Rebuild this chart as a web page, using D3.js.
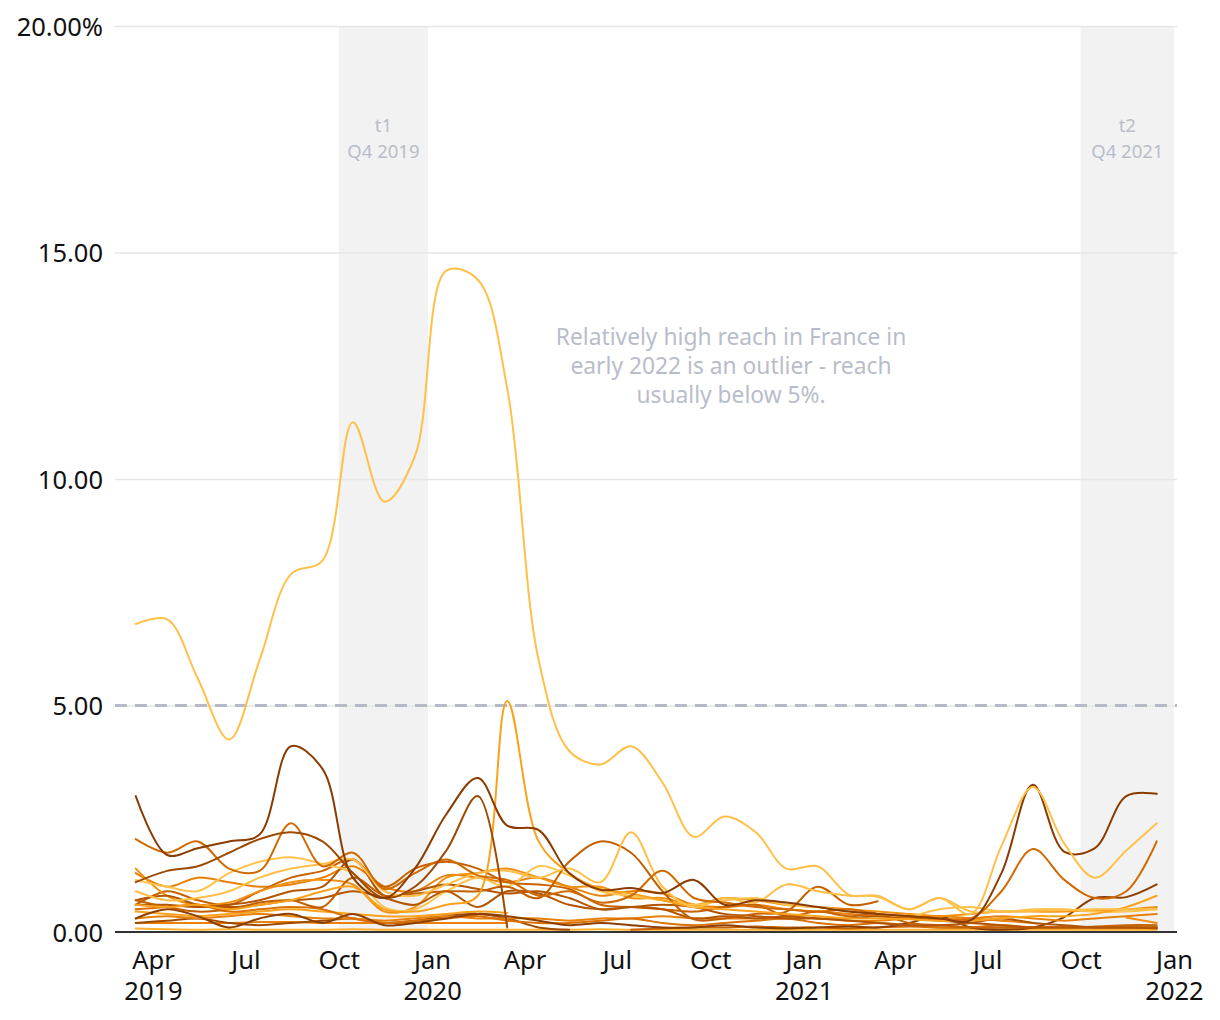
<!DOCTYPE html>
<html><head><meta charset="utf-8">
<script src="https://cdn.jsdelivr.net/npm/d3@7"></script>
<style>
html,body{margin:0;padding:0;background:#fff;}
svg{display:block;font-family:"Noto Sans","Open Sans",sans-serif;}
</style></head>
<body>
<svg id="chart" width="1220" height="1020"></svg>
<script>
// ---- data ----
const months = ["2019-03-15","2019-04-15","2019-05-15","2019-06-15","2019-07-15","2019-08-15","2019-09-15","2019-10-15","2019-11-15","2019-12-15",
"2020-01-15","2020-02-15","2020-03-15","2020-04-15","2020-05-15","2020-06-15","2020-07-15","2020-08-15","2020-09-15","2020-10-15","2020-11-15","2020-12-15",
"2021-01-15","2021-02-15","2021-03-15","2021-04-15","2021-05-15","2021-06-15","2021-07-15","2021-08-15","2021-09-15","2021-10-15","2021-11-15","2021-12-15"];
const _ = null;
const s01 = [0.08,0.06,0.05,0.06,0.05,0.05,0.05,0.06,0.05,0.05,0.05,0.05,0.05,0.05,0.05,0.06,0.05,0.05,0.05,0.05,0.05,0.05,0.05,0.05,0.05,0.05,0.05,0.05,0.05,0.05,0.05,0.05,0.05,0.05];
const s02 = [0.2,0.2,0.2,0.2,0.22,0.22,0.2,0.2,0.2,0.2,0.2,0.2,0.2,_,_,_,_,_,_,_,_,_,_,_,_,_,_,_,_,_,_,_,_,_];
const s03 = [0.45,0.4,0.35,0.4,0.45,0.5,0.45,0.4,0.35,0.35,0.4,0.45,0.42,_,_,_,_,_,_,_,_,_,_,_,_,_,_,_,_,_,_,_,_,_];
const s04 = [0.2,0.25,0.3,0.2,0.15,0.2,0.25,0.3,0.2,0.25,0.35,0.4,0.3,0.1,0.05,_,_,_,_,_,_,_,_,_,_,_,_,_,_,_,_,_,_,_];
const s05 = [0.3,0.35,0.3,0.35,0.4,0.35,0.3,0.3,0.25,0.3,0.35,0.3,0.3,0.3,0.25,0.3,0.3,0.35,0.3,0.3,0.3,0.3,0.3,0.25,0.25,0.3,0.35,0.3,0.25,0.2,_,_,_,_];
const s06 = [_,_,_,_,_,_,_,_,_,_,_,_,_,_,_,_,0.05,0.08,0.1,0.1,0.12,0.1,0.1,0.08,0.1,0.12,0.1,0.1,0.1,0.1,0.1,0.12,0.15,0.15];
const s07 = [0.5,0.55,0.6,0.45,0.5,0.55,0.5,0.3,0.2,0.25,0.3,0.35,0.25,0.2,0.2,0.25,0.3,0.2,0.15,0.2,0.25,0.3,0.2,0.15,0.2,0.15,0.1,0.1,0.15,0.1,0.1,0.1,0.1,0.1];
const s08 = [0.3,0.5,0.35,0.1,0.3,0.4,0.2,0.4,0.15,0.2,0.3,0.4,0.35,0.25,0.15,0.2,0.15,0.1,0.1,0.15,0.1,0.08,0.1,0.12,0.1,0.2,0.35,0.1,0.05,0.1,0.33,0.75,0.77,1.05];
const s09 = [1.3,1.0,1.2,1.1,1.0,1.05,1.2,1.45,1.0,0.9,1.25,1.2,1.1,1.2,1.0,0.8,0.9,0.85,0.6,0.55,0.6,0.5,0.45,0.4,0.35,0.3,0.28,0.3,0.35,0.3,0.25,0.3,0.35,0.4];
const s10 = [0.6,0.9,0.7,0.6,0.9,1.2,1.35,1.6,1.0,1.4,1.55,1.4,1.1,1.05,0.95,0.6,0.55,0.5,0.45,0.55,0.6,0.35,0.45,0.35,0.4,0.2,0.15,0.1,0.1,0.1,0.1,0.1,0.1,0.1];
const s11 = [1.4,0.8,0.6,0.65,0.9,1.1,1.15,1.05,0.45,0.55,1.2,1.3,1.4,1.2,1.0,1.0,0.75,0.75,0.6,0.75,0.7,0.6,0.55,0.5,0.45,0.4,0.35,0.4,0.45,0.45,0.45,0.48,0.5,0.55];
const s12 = [0.6,0.6,0.55,0.6,0.7,0.9,1.0,1.6,0.8,0.9,1.05,0.95,0.85,0.9,0.75,0.5,0.55,0.6,0.55,0.4,0.35,0.3,0.3,0.25,0.2,0.15,0.15,0.2,0.3,0.2,0.15,0.1,0.1,0.08];
const s13 = [0.7,0.8,0.6,0.55,0.6,0.7,0.75,0.9,0.75,0.6,0.9,0.55,0.9,0.85,0.6,0.5,0.55,0.5,0.3,0.35,0.3,0.35,0.3,0.3,0.35,0.3,0.25,0.2,0.15,0.1,0.1,0.1,0.1,0.1];
const s14 = [1.15,1.0,0.9,1.3,1.55,1.65,1.5,1.3,0.55,0.5,0.9,1.2,1.0,1.45,1.25,0.9,0.8,0.7,0.6,0.7,0.75,0.6,0.55,0.45,0.4,0.35,0.5,0.55,0.45,0.5,0.5,0.45,0.45,0.5];
const s15 = [0.7,0.55,0.45,0.5,0.65,0.7,0.55,1.2,0.8,0.85,0.9,0.9,1.0,0.75,1.55,2.0,1.75,0.9,0.28,0.3,0.4,0.45,1.0,0.6,0.68,_,_,_,_,_,_,_,_,_];
const s16 = [0.6,0.55,0.6,0.5,0.6,0.7,0.9,1.0,0.5,0.45,0.6,0.8,5.1,2.0,1.3,0.95,0.85,0.7,0.55,0.5,0.45,0.4,0.35,0.3,0.3,0.28,0.25,0.25,0.3,0.35,0.35,0.4,0.55,0.8];
const s17 = [0.9,0.7,0.75,0.9,1.2,1.4,1.5,1.6,0.9,0.8,1.05,1.3,1.35,1.2,1.4,1.1,2.2,1.0,0.55,0.75,0.65,1.05,0.9,0.8,0.78,0.5,0.75,0.45,0.45,0.47,0.48,0.5,0.5,0.5];
const s18 = [2.05,1.75,2.0,1.4,1.35,2.4,1.45,1.75,0.95,1.3,1.6,1.25,1.15,0.8,0.9,0.65,0.8,1.35,0.75,0.65,0.55,0.5,0.45,0.5,0.4,0.35,0.3,0.3,0.9,1.83,1.15,0.75,0.9,2.0];
const s19 = [1.1,1.35,1.45,1.75,2.05,2.2,2.0,1.3,0.75,1.0,1.8,3.0,0.1,_,_,_,_,_,_,_,_,_,_,_,_,_,_,_,_,_,_,_,_,_];
const s20 = [_,_,_,_,_,_,_,_,_,_,_,_,_,_,_,_,_,_,_,_,_,_,_,_,_,_,_,_,_,_,_,_,0.32,0.2];
const s21 = [3.0,1.7,1.85,2.0,2.15,4.1,3.6,1.2,0.75,1.4,2.6,3.4,2.35,2.25,1.3,0.93,0.97,0.86,1.15,0.6,0.7,0.65,0.55,0.45,0.4,0.35,0.3,0.26,1.3,3.25,1.77,1.85,3.0,3.05];
const france = [6.8,6.9,5.6,4.25,6.0,7.9,8.2,11.25,9.5,10.5,14.6,14.4,12.0,6.0,4.0,3.7,4.1,3.3,2.1,2.55,2.2,1.4,1.45,0.82,0.8,0.5,0.75,0.4,1.9,3.2,1.95,1.2,1.8,2.4];

const seriesList = [s01,s02,s03,s04,s05,s06,s07,s08,s09,s10,s11,s12,s13,s14,s15,s16,s17,s18,s19,s20,s21,france];
const seriesColors = ["#FFB02E","#E88009","#FAA21B","#A04A00","#E88009","#C76200","#D97000","#8C3F00","#E88009","#C76200","#F29111","#B35500","#B35500","#FFC34D","#C26000","#FAA21B","#FFBF47","#D06A00","#9E4A00","#F29111","#8A3B00","#FFC04A"];

const yTicks = [0,5,10,15,20];
const yTickLabels = ["0.00","5.00","10.00","15.00","20.00%"];
const xTicks = ["2019-04-01","2019-07-01","2019-10-01","2020-01-01","2020-04-01","2020-07-01","2020-10-01","2021-01-01","2021-04-01","2021-07-01","2021-10-01","2022-01-01"];
const xMonthLabels = ["Apr","Jul","Oct","Jan","Apr","Jul","Oct","Jan","Apr","Jul","Oct","Jan"];
const xYearLabels = ["2019","","","2020","","","","2021","","","","2022"];
const bands = [{start:"2019-10-01",end:"2019-12-28",l1:"t1",l2:"Q4 2019"},{start:"2021-10-01",end:"2022-01-01",l1:"t2",l2:"Q4 2021"}];
const refValue = 5;
const noteLines = ["Relatively high reach in France in","early 2022 is an outlier - reach","usually below 5%."];

// ---- chart ----
const svg = d3.select("#chart");
const parse = d3.timeParse("%Y-%m-%d");
const x = d3.scaleTime().domain([parse("2019-04-01"), parse("2022-01-01")]).range([153,1174]);
const y = d3.scaleLinear().domain([0,20]).range([932,26]);
const left = 115, right = 1177;
const lightText = "#b9bdca";
const tickFont = 25.5;

// bands
bands.forEach(b => {
  const x0 = x(parse(b.start)), x1 = x(parse(b.end));
  svg.append("rect").attr("x",x0).attr("y",y(20)).attr("width",x1-x0).attr("height",y(0)-y(20)).attr("fill","#f2f2f2");
  const cx = (x0+x1)/2;
  svg.append("text").attr("x",cx).attr("y",132).attr("text-anchor","middle").attr("fill",lightText).attr("font-size",18.5).text(b.l1);
  svg.append("text").attr("x",cx).attr("y",158).attr("text-anchor","middle").attr("fill",lightText).attr("font-size",18.5).text(b.l2);
});

// gridlines + y labels
const yAxis = d3.axisLeft(y).tickValues(yTicks).tickSize(-(right-left)).tickFormat((d,i)=>yTickLabels[i]);
const gy = svg.append("g").attr("transform",`translate(${left},0)`).call(yAxis);
gy.select(".domain").remove();
gy.selectAll(".tick line").attr("stroke","#e6e6e6").attr("stroke-width",1.5);
gy.selectAll(".tick text").attr("x",-12).attr("dy","0.36em").attr("font-size",tickFont).attr("fill","#111").attr("font-family","Noto Sans, sans-serif");

// reference dashed line
svg.append("line").attr("x1",left).attr("x2",right).attr("y1",y(refValue)).attr("y2",y(refValue))
  .attr("stroke","#b5b9c8").attr("stroke-width",3).attr("stroke-dasharray","12,8");

// annotation
noteLines.forEach((t,i)=>{
  svg.append("text").attr("x",731).attr("y",345+i*29).attr("text-anchor","middle").attr("fill",lightText).attr("font-size",22.8).text(t);
});

// lines
const line = d3.line().x(d=>x(d.date)).y(d=>y(d.v)).curve(d3.curveCatmullRom.alpha(0.5));
seriesList.forEach((s,i)=>{
  const pts = months.map((m,j)=>({date:parse(m), v:s[j]})).filter(d=>d.v!==null);
  svg.append("path").datum(pts).attr("d",line).attr("fill","none").attr("stroke",seriesColors[i]).attr("stroke-width",2).attr("stroke-linejoin","round").attr("stroke-linecap","round");
});

// x axis
const xAxis = d3.axisBottom(x).tickValues(xTicks.map(parse)).tickSize(0).tickFormat((d,i)=>xMonthLabels[i]);
const gx = svg.append("g").attr("transform",`translate(0,${y(0)})`).call(xAxis);
gx.select(".domain").remove();
gx.selectAll(".tick text").attr("font-size",tickFont).attr("fill","#111").attr("dy",0).attr("y",37).attr("font-family","Noto Sans, sans-serif");
gx.selectAll(".tick").append("text").attr("y",68).attr("text-anchor","middle").attr("font-size",tickFont).attr("fill","#111").attr("font-family","Noto Sans, sans-serif").text((d,i)=>xYearLabels[i]);
svg.append("line").attr("x1",left).attr("x2",right).attr("y1",y(0)).attr("y2",y(0)).attr("stroke","#333").attr("stroke-width",2);
</script>
</body></html>
